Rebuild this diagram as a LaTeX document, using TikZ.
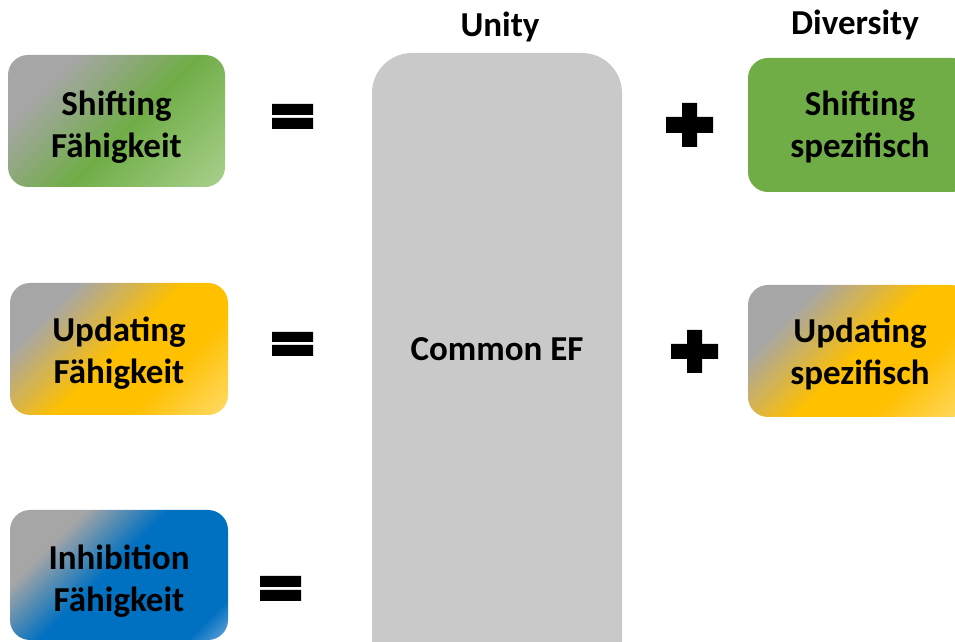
\documentclass[tikz,border=0pt]{standalone}
\usepackage{fontspec}
\setmainfont{Carlito}

% Palette
\definecolor{cardgray}{HTML}{A6A6A6}
\definecolor{shiftgreen}{HTML}{70AD47}
\definecolor{shiftlight}{HTML}{A9D18E}
\definecolor{updgold}{HTML}{FFC000}
\definecolor{updlight}{HTML}{FFDA6A}
\definecolor{inhblue}{HTML}{0070C0}
\definecolor{inhlight}{HTML}{6FA8DC}
\definecolor{commongray}{HTML}{C9C9C9}

% Diagonal card fills: gray corner at top left, colour towards bottom right
\pgfdeclarehorizontalshading{shiftgrad}{100bp}{color(0bp)=(cardgray); color(36bp)=(cardgray); color(52.3bp)=(shiftgreen); color(73bp)=(shiftlight); color(100bp)=(shiftlight)}
\pgfdeclarehorizontalshading{updgrad}{100bp}{color(0bp)=(cardgray); color(36bp)=(cardgray); color(50bp)=(updgold); color(60bp)=(updgold); color(73bp)=(updlight); color(100bp)=(updlight)}
\pgfdeclarehorizontalshading{inhgrad}{100bp}{color(0bp)=(cardgray); color(37bp)=(cardgray); color(48bp)=(inhblue); color(67.5bp)=(inhblue); color(73bp)=(inhlight); color(100bp)=(inhlight)}

\tikzset{
  labeltext/.style={font=\fontsize{35}{42}\selectfont\bfseries},
  card/.style={rectangle, rounded corners=20pt, inner sep=0pt,
    minimum width=218pt, minimum height=132pt},
  cardtext/.style={labeltext, align=center, inner sep=0pt},
  graded/.style={path picture={\shade[shading=#1, shading angle=-45]
    ([shift={(-135pt,-135pt)}]path picture bounding box.center) rectangle ++(270pt,270pt);}},
  heading/.style={labeltext, anchor=base, inner sep=0pt},
  sign/.style={fill=black},
}

\begin{document}
\begin{tikzpicture}[x=1pt,y=1pt]
\useasboundingbox (0,0) rectangle (955,642);
\clip (0,0) rectangle (955,642);

% Headings
\node[heading] (unity) at (500,605) {Unity};
\node[heading] (diversity) at (855,607) {Diversity};

% Shared component
\node[rectangle, rounded corners=40pt, fill=commongray, minimum width=250pt,
      minimum height=649pt] (commonbox) at (497,264.5) {};
\node[heading] (common) at (497,281) {Common EF};

% Ability cards
\node[card, graded=shiftgrad, minimum width=217pt] (shiftF) at (116.5,521) {};
\node[cardtext] (shiftFtext) at ([yshift=-6pt]shiftF.center) {Shifting\\Fähigkeit};
\node[card, graded=updgrad] (updF) at (119,293) {};
\node[cardtext] (updFtext) at ([yshift=-4pt]updF.center) {Updating\\Fähigkeit};
\node[card, graded=inhgrad, minimum height=130pt] (inhF) at (119,67) {};
\node[cardtext] (inhFtext) at ([yshift=-6pt]inhF.center) {Inhibition\\Fähigkeit};

% Specific components
\node[card, fill=shiftgreen, minimum width=224pt, minimum height=134pt] (shiftS) at (860,517) {};
\node[cardtext] (shiftStext) at ([yshift=-2pt]shiftS.center) {Shifting\\spezifisch};
\node[card, graded=updgrad, minimum width=224pt] (updS) at (860,291) {};
\node[cardtext] (updStext) at ([yshift=-3pt]updS.center) {Updating\\spezifisch};

% Equals signs
\fill[sign] (272,527) rectangle (313,538) (272,513) rectangle (313,524);
\fill[sign] (272,300) rectangle (313,310) (272,286) rectangle (313,297);
\fill[sign] (260,55) rectangle (301,66) (260,41) rectangle (301,52);

% Plus signs
\fill[sign] (666,509) -- (682,509) -- (682,495) -- (697,495) -- (697,509) -- (713,509)
  -- (713,525) -- (697,525) -- (697,539) -- (682,539) -- (682,525) -- (666,525) -- cycle;
\fill[sign] (671,283) -- (687,283) -- (687,269) -- (702,269) -- (702,283) -- (718,283)
  -- (718,298) -- (702,298) -- (702,312) -- (687,312) -- (687,298) -- (671,298) -- cycle;
\end{tikzpicture}
\end{document}
